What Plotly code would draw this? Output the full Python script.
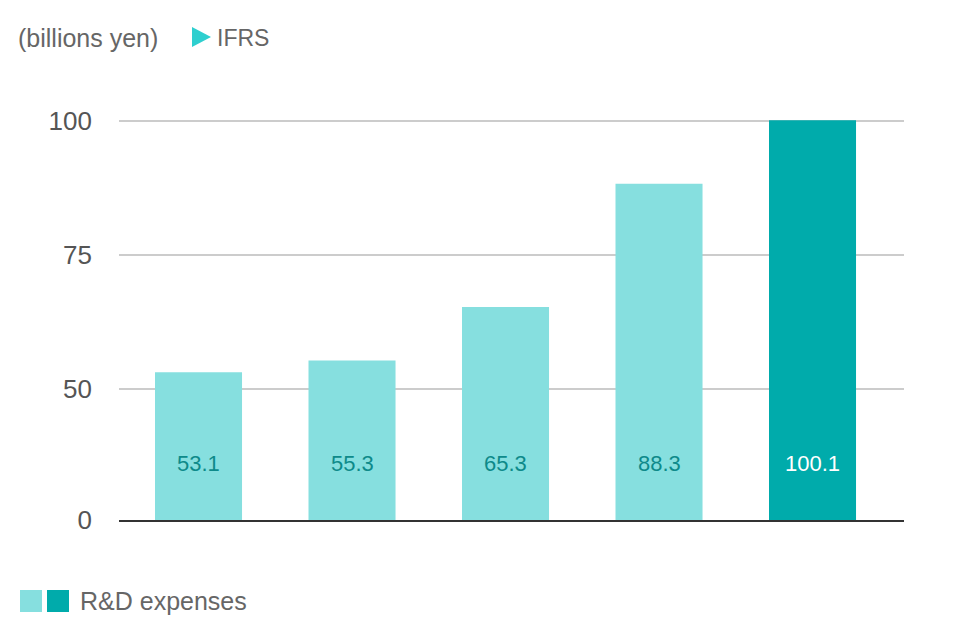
import plotly.graph_objects as go

# ---- data ----
categories = ["FY1", "FY2", "FY3", "FY4", "FY5"]
rd_expenses = [53.1, 55.3, 65.3, 88.3, 100.1]
bar_colors = ["#86DFDF", "#86DFDF", "#86DFDF", "#86DFDF", "#00ABAB"]
label_colors = ["#0E8A8A", "#0E8A8A", "#0E8A8A", "#0E8A8A", "#FFFFFF"]
tick_values = [25.56, 50, 75, 100]   # baseline of the broken axis carries the "0" label
tick_labels = ["0", "50", "75", "100"]
unit_text = "(billions yen)"
standard_text = "IFRS"
legend_text = "R&D expenses"

OFF = 8  # page body margin
W, H = 980, 632
L, R, T, B = 119 - OFF, 904 - OFF, 100 - OFF, 520 - OFF  # plot area in figure pixels


def px(x):
    return (x - OFF - L) / (R - L)


def py(y):
    return (B - (y - OFF)) / (B - T)


FONT = "Liberation Sans, Arial, sans-serif"

fig = go.Figure()
fig.add_trace(go.Bar(
    x=categories,
    y=rd_expenses,
    marker=dict(color=bar_colors, line=dict(width=0)),
    width=0.567,
    hoverinfo="x+y",
))

annotations = []
for c, v, col in zip(categories, rd_expenses, label_colors):
    annotations.append(dict(
        x=c, y=py(463), xref="x", yref="paper", text=f"{v}",
        showarrow=False, font=dict(family=FONT, size=22, color=col),
        xanchor="center", yanchor="middle",
    ))

annotations += [
    dict(x=px(16), y=py(38), xref="paper", yref="paper", text=unit_text,
         showarrow=False, xanchor="left", yanchor="middle",
         font=dict(family=FONT, size=25, color="#666666")),
    dict(x=px(215), y=py(38), xref="paper", yref="paper", text=standard_text,
         showarrow=False, xanchor="left", yanchor="middle",
         font=dict(family=FONT, size=23, color="#666666")),
    dict(x=px(78), y=py(601), xref="paper", yref="paper", text=legend_text,
         showarrow=False, xanchor="left", yanchor="middle",
         font=dict(family=FONT, size=25, color="#666666")),
]

shapes = [
    dict(type="path", xref="paper", yref="paper",
         path=f"M {px(192)} {py(27)} L {px(211)} {py(37)} L {px(192)} {py(47)} Z",
         fillcolor="#2ECFCF", line=dict(width=0)),
    dict(type="rect", xref="paper", yref="paper",
         x0=px(20), x1=px(42), y0=py(612), y1=py(590),
         fillcolor="#86DFDF", line=dict(width=0)),
    dict(type="rect", xref="paper", yref="paper",
         x0=px(47), x1=px(69), y0=py(612), y1=py(590),
         fillcolor="#00ABAB", line=dict(width=0)),
]

fig.update_layout(
    width=W, height=H,
    margin=dict(l=L, r=W - R, t=T, b=H - B, pad=0),
    paper_bgcolor="white", plot_bgcolor="white",
    showlegend=False,
    annotations=annotations,
    shapes=shapes,
    font=dict(family=FONT),
)
fig.update_xaxes(
    type="category", range=[-0.518, 4.596],
    showticklabels=False, showgrid=False, ticks="",
    showline=True, linecolor="#333333", linewidth=2,
)
fig.update_yaxes(
    range=[25.56, 103.9],
    tickvals=tick_values, ticktext=tick_labels,
    showgrid=True, gridcolor="#CCCCCC", gridwidth=1.5,
    zeroline=False, showline=False, ticks="",
    ticklabelstandoff=26,
    tickfont=dict(family=FONT, size=26, color="#555555"),
)

fig.write_html("out.html")
